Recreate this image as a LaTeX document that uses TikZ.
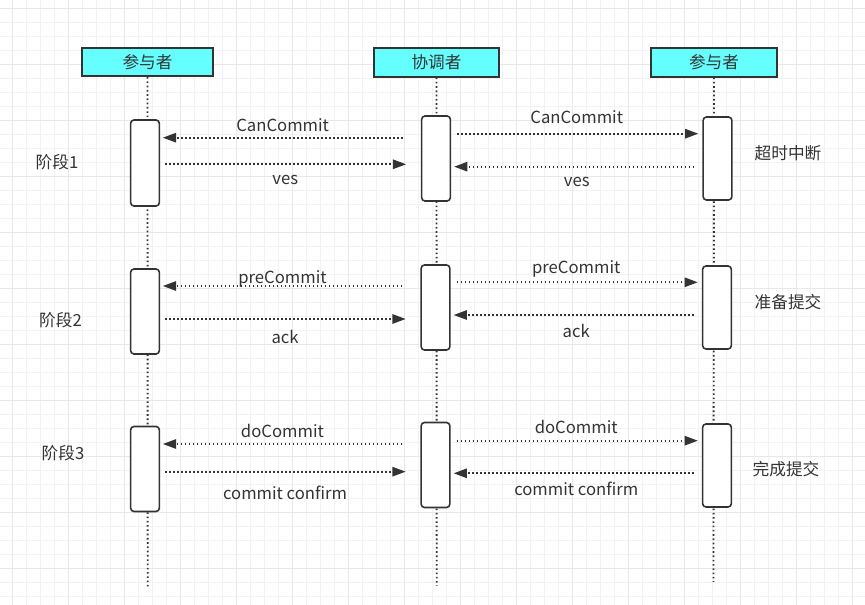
\documentclass[tikz,border=0pt]{standalone}
\usepackage{fontspec}
\setmainfont{Noto Sans CJK SC}
\usepackage{xcolor}
\usepackage{tikz}
\usetikzlibrary{arrows.meta,calc,positioning}
\definecolor{headfill}{HTML}{66FFFF}
\definecolor{inkgray}{HTML}{333333}
\colorlet{gridminor}{black!5}
\colorlet{gridmajor}{black!9}
\tikzset{
  head/.style={draw=inkgray,fill=headfill,line width=1.3pt,minimum width=94pt,minimum height=21.4pt,inner sep=0pt,text=inkgray},
  act/.style={draw=inkgray,fill=white,rounded corners=2.5pt,line width=1.2pt,minimum width=21.5pt,inner sep=0pt},
  life/.style={draw=inkgray,line width=1.4pt,dash pattern=on 1.2pt off 2pt},
  msg/.style={draw=inkgray,line width=1.4pt,dash pattern=on 1.2pt off 1.8pt,-{Triangle[length=10pt,width=7pt]}},
  callL/.style={msg,shorten <=13.5pt,shorten >=2pt},
  backL/.style={msg,shorten <=3.75pt,shorten >=11pt},
  callR/.style={msg,shorten <=4.5pt,shorten >=3pt},
  backR/.style={msg,shorten <=6pt,shorten >=2.25pt},
  lbl/.style={text=inkgray,inner sep=0pt},
  note/.style={text=inkgray,inner sep=0pt}
}

\begin{document}
\begin{tikzpicture}[x=0.75pt,y=-0.75pt,font=\fontsize{12.5pt}{14pt}\selectfont]
\useasboundingbox (0,0) rectangle (865,605);
% background grid
\foreach \gx in {12,26,...,865} \draw[gridminor,line width=0.6pt] (\gx,0) -- (\gx,605);
\foreach \gy in {8.7,22.7,...,605} \draw[gridminor,line width=0.6pt] (0,\gy) -- (865,\gy);
\foreach \gx in {12,68,...,865} \draw[gridmajor,line width=0.6pt] (\gx,0) -- (\gx,605);
\foreach \gy in {8.7,64.7,...,605} \draw[gridmajor,line width=0.6pt] (0,\gy) -- (865,\gy);

% lifeline heads
\node[head,minimum width=98pt] (hl) at (147.5,62) {参与者};
\node[head] (hm) at (436.5,62.5) {协调者};
\node[head] (hr) at (714,62.5) {参与者};
\coordinate (el) at (147.7,587);
\coordinate (em) at (436.7,586);
\coordinate (er) at (713.5,582);
\draw[life] (hl.south) -- (el);
\draw[life] (hm.south) -- (em);
\draw[life] (hr.south) -- (er);

% activation boxes
\node[act,minimum height=64.5pt] (l1) at (145,163) {};
\node[act,minimum height=63.75pt] (m1) at (436,158.5) {};
\node[act,minimum height=62.25pt] (r1) at (717.5,158.5) {};
\node[act,minimum height=63.75pt] (l2) at (145,311.5) {};
\node[act,minimum height=63.75pt] (m2) at (435.5,307.5) {};
\node[act,minimum height=62.25pt] (r2) at (717,307.5) {};
\node[act,minimum height=63.75pt] (l3) at (145,469) {};
\node[act,minimum height=63.75pt] (m3) at (435.5,465) {};
\node[act,minimum height=62.25pt] (r3) at (717,465.5) {};

% phase 1
\draw[callL] (m1.west |- 0,137.7) -- (l1.east |- 0,137.7) node[lbl,pos=.53,yshift=9.5pt]{CanCommit};
\draw[backL] (l1.east |- 0,164.3) -- (m1.west |- 0,164.3) node[lbl,pos=.48,yshift=-12pt]{ves};
\draw[callR] (m1.east |- 0,133.7) -- (r1.west |- 0,133.7) node[lbl,midway,yshift=12.5pt]{CanCommit};
\draw[backR] (r1.west |- 0,166.7) -- (m1.east |- 0,166.7) node[lbl,midway,yshift=-11.5pt]{ves};
% phase 2
\draw[callL] (m2.west |- 0,286) -- (l2.east |- 0,286) node[lbl,pos=.53,yshift=5.25pt]{preCommit};
\draw[backL] (l2.east |- 0,319) -- (m2.west |- 0,319) node[lbl,pos=.48,yshift=-13.5pt]{ack};
\draw[callR] (m2.east |- 0,282.3) -- (r2.west |- 0,282.3) node[lbl,midway,yshift=10pt]{preCommit};
\draw[backR] (r2.west |- 0,315) -- (m2.east |- 0,315) node[lbl,midway,yshift=-12pt]{ack};
% phase 3
\draw[callL] (m3.west |- 0,444) -- (l3.east |- 0,444) node[lbl,pos=.53,yshift=9.75pt]{doCommit};
\draw[backL] (l3.east |- 0,471.7) -- (m3.west |- 0,471.7) node[lbl,pos=.48,yshift=-16pt]{commit confirm};
\draw[callR] (m3.east |- 0,440.7) -- (r3.west |- 0,440.7) node[lbl,midway,yshift=10.5pt]{doCommit};
\draw[backR] (r3.west |- 0,473.3) -- (m3.east |- 0,473.3) node[lbl,midway,yshift=-12pt]{commit confirm};

% phase names and notes
\node[note] (p1) at (57,161.7) {阶段1};
\node[note] (p2) at (60.5,320) {阶段2};
\node[note] (p3) at (63,452.7) {阶段3};
\node[note] (n1) at (788,152.7) {超时中断};
\node[note] (n2) at (788,301.7) {准备提交};
\node[note] (n3) at (786,469.3) {完成提交};
\end{tikzpicture}
\end{document}
